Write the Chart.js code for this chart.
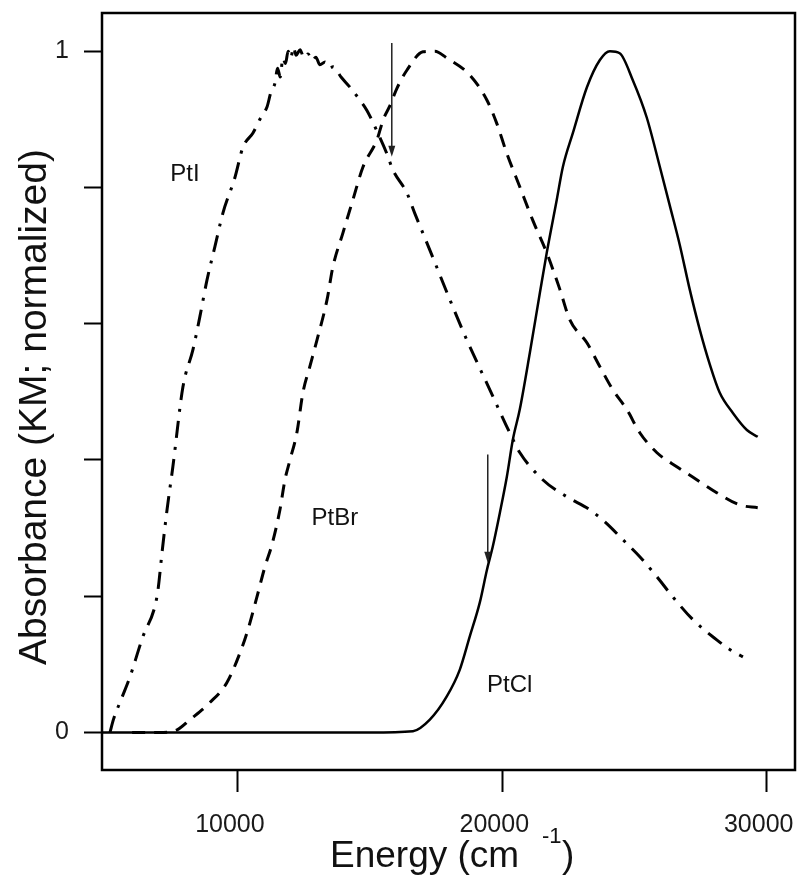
<!DOCTYPE html>
<html>
<head>
<meta charset="utf-8">
<script src="https://cdn.jsdelivr.net/npm/chart.js@4.4.0/dist/chart.umd.min.js"></script>
<style>
  html, body { margin: 0; padding: 0; background: #fff; }
  #wrap { width: 798px; height: 876px; }
</style>
</head>
<body>
<div id="wrap"><canvas id="chart" width="798" height="876"></canvas></div>
<script>
// PtI (dash-dot)
const ptIEnergy = [5160, 5300, 5600, 5920, 6410, 6860, 6980, 7130, 7320, 7540, 7920, 8300, 8560, 8830, 9130, 9430, 9890, 10190, 10570, 10900, 11100, 11250, 11400, 11500, 11600, 11700, 11800, 11900, 12000, 12100, 12200, 12350, 12500, 12650, 12800, 12950, 13100, 13300, 13450, 13600, 13900, 14240, 14580, 14880, 15290, 15630, 15860, 16390, 16690, 17260, 18020, 18660, 19530, 20280, 20660, 21530, 22440, 23310, 23880, 24560, 25200, 25840, 26450, 27200, 28110, 28600, 29100];
const ptIAbs = [0, 0.02, 0.05, 0.082, 0.141, 0.185, 0.21, 0.264, 0.327, 0.39, 0.507, 0.562, 0.61, 0.664, 0.713, 0.762, 0.815, 0.859, 0.88, 0.905, 0.918, 0.94, 0.953, 0.975, 0.962, 0.99, 0.982, 1.0, 0.99, 1.006, 0.994, 1.002, 0.99, 0.996, 0.986, 0.991, 0.98, 0.984, 0.975, 0.977, 0.962, 0.947, 0.93, 0.913, 0.88, 0.85, 0.826, 0.792, 0.762, 0.708, 0.635, 0.576, 0.503, 0.44, 0.411, 0.371, 0.346, 0.327, 0.309, 0.283, 0.258, 0.229, 0.199, 0.166, 0.136, 0.122, 0.111];

// PtBr (dashed)
const ptBrEnergy = [6000, 7000, 7700, 8190, 8940, 9580, 10080, 10380, 10720, 11020, 11290, 11590, 11780, 11970, 12230, 12460, 12720, 12990, 13370, 13590, 13970, 14350, 14730, 15260, 15500, 15750, 16010, 16390, 17000, 17450, 17900, 18770, 19420, 19790, 20170, 20660, 21150, 21680, 22180, 22550, 23200, 23690, 24180, 24710, 25200, 25840, 26600, 27200, 28110, 28980, 29660];
const ptBrAbs = [0, 0, 0.004, 0.019, 0.044, 0.073, 0.117, 0.151, 0.199, 0.243, 0.276, 0.327, 0.371, 0.4, 0.44, 0.499, 0.537, 0.576, 0.635, 0.683, 0.733, 0.782, 0.83, 0.87, 0.9, 0.92, 0.945, 0.972, 0.999, 1.0, 0.99, 0.965, 0.928, 0.894, 0.85, 0.801, 0.752, 0.704, 0.65, 0.606, 0.572, 0.537, 0.503, 0.474, 0.44, 0.411, 0.39, 0.375, 0.352, 0.334, 0.33];

// PtCl (solid)
const ptClEnergy = [4860, 15000, 16620, 17260, 17900, 18390, 18770, 19150, 19420, 19640, 19910, 20170, 20400, 20660, 21040, 21420, 21680, 22060, 22290, 22670, 23200, 23690, 24070, 24440, 24940, 25460, 25960, 26330, 26710, 27090, 27470, 27850, 28220, 28720, 29250, 29660];
const ptClAbs = [0, 0, 0.002, 0.019, 0.053, 0.092, 0.141, 0.191, 0.239, 0.273, 0.323, 0.375, 0.43, 0.474, 0.557, 0.645, 0.704, 0.782, 0.83, 0.88, 0.947, 0.987, 1.0, 0.997, 0.957, 0.903, 0.83, 0.774, 0.716, 0.65, 0.591, 0.54, 0.499, 0.469, 0.444, 0.434];

// ticks
const xTicks = [10000, 20000, 30000];
const xTickLabels = ['10000', '20000', '30000'];
const yTicks = [0, 0.2, 0.4, 0.6, 0.8, 1];
const yTickLabels = ['0', '', '', '', '', '1'];

// curve names and where they sit
const curveNames = ['PtI', 'PtBr', 'PtCl'];
const nameEnergy = [8000, 13670, 20280];
const nameAbs = [0.819, 0.314, 0.069];

// arrows (energy, from, to)
const arrowEnergy = [15820, 19450];
const arrowFrom = [1.012, 0.408];
const arrowTo = [0.845, 0.249];

const FONT = '"Liberation Sans", Arial, Helvetica, sans-serif';

function pts(xs, ys) {
  return xs.map((x, i) => ({ x: x, y: ys[i] }));
}

const figureText = {
  id: 'figureText',
  afterDraw(chart) {
    const ctx = chart.ctx;
    const a = chart.chartArea;
    const x = chart.scales.x;
    const y = chart.scales.y;
    ctx.save();

    // box
    ctx.strokeStyle = '#000';
    ctx.lineWidth = 2.5;
    ctx.strokeRect(a.left, a.top, a.right - a.left, a.bottom - a.top);

    // arrows
    ctx.lineWidth = 1.5;
    ctx.strokeStyle = '#222';
    ctx.fillStyle = '#222';
    arrowEnergy.forEach((e, i) => {
      const px = x.getPixelForValue(e);
      const y1 = y.getPixelForValue(arrowFrom[i]);
      const y2 = y.getPixelForValue(arrowTo[i]);
      ctx.beginPath();
      ctx.moveTo(px, y1);
      ctx.lineTo(px, y2 - 6);
      ctx.stroke();
      ctx.beginPath();
      ctx.moveTo(px, y2);
      ctx.lineTo(px - 3.5, y2 - 11);
      ctx.lineTo(px + 3.5, y2 - 11);
      ctx.closePath();
      ctx.fill();
    });

    // curve names
    ctx.fillStyle = '#111';
    ctx.font = '24px ' + FONT;
    ctx.textAlign = 'center';
    ctx.textBaseline = 'middle';
    curveNames.forEach((n, i) => {
      ctx.fillText(n, x.getPixelForValue(nameEnergy[i]), y.getPixelForValue(nameAbs[i]));
    });

    // x title with superscript
    ctx.textAlign = 'left';
    ctx.textBaseline = 'alphabetic';
    ctx.font = '37px ' + FONT;
    ctx.fillText('Energy (cm', 330, 867);
    ctx.font = '22px ' + FONT;
    ctx.fillText('-1', 542, 843);
    ctx.font = '37px ' + FONT;
    ctx.fillText(')', 562, 867);

    // y title
    ctx.translate(46, 407);
    ctx.rotate(-Math.PI / 2);
    ctx.textAlign = 'center';
    ctx.font = '39px ' + FONT;
    ctx.fillText('Absorbance (KM; normalized)', 0, 0);

    ctx.restore();
  }
};

const ctx = document.getElementById('chart').getContext('2d');

new Chart(ctx, {
  type: 'line',
  data: {
    datasets: [
      {
        label: 'PtI',
        data: pts(ptIEnergy, ptIAbs),
        borderColor: '#000',
        borderWidth: 3,
        borderDash: [17, 9, 3, 9],
      },
      {
        label: 'PtBr',
        data: pts(ptBrEnergy, ptBrAbs),
        borderColor: '#000',
        borderWidth: 3,
        borderDash: [13, 9],
      },
      {
        label: 'PtCl',
        data: pts(ptClEnergy, ptClAbs),
        borderColor: '#000',
        borderWidth: 2.5,
      },
    ],
  },
  options: {
    responsive: false,
    animation: false,
    layout: { padding: { top: 13, right: 3, left: 0, bottom: 0 } },
    elements: {
      point: { radius: 0 },
      line: { cubicInterpolationMode: 'monotone' },
    },
    plugins: {
      legend: { display: false },
      tooltip: { enabled: false },
    },
    scales: {
      x: {
        type: 'linear',
        min: 4860,
        max: 31070,
        afterFit: (s) => {
          s.height = 106;
          s.paddingLeft = 0;
          s.paddingRight = 0;
        },
        afterBuildTicks: (s) => { s.ticks = xTicks.map((v) => ({ value: v })); },
        ticks: {
          callback: (v, i) => xTickLabels[i],
          font: { size: 25, family: FONT },
          color: '#1a1a1a',
          padding: 18,
          labelOffset: -8,
          maxRotation: 0,
          autoSkip: false,
        },
        grid: { drawOnChartArea: false, tickLength: 22, tickWidth: 2, color: '#000' },
        border: { display: false },
      },
      y: {
        type: 'linear',
        min: -0.055,
        max: 1.056,
        afterFit: (s) => {
          s.width = 102;
          s.paddingTop = 0;
          s.paddingBottom = 0;
        },
        afterBuildTicks: (s) => { s.ticks = yTicks.map((v) => ({ value: v })); },
        ticks: {
          callback: (v, i) => yTickLabels[i],
          font: { size: 25, family: FONT },
          color: '#1a1a1a',
          padding: 15,
          autoSkip: false,
        },
        grid: { drawOnChartArea: false, tickLength: 18, tickWidth: 2, color: '#000' },
        border: { display: false },
      },
    },
  },
  plugins: [figureText],
});
</script>
</body>
</html>
